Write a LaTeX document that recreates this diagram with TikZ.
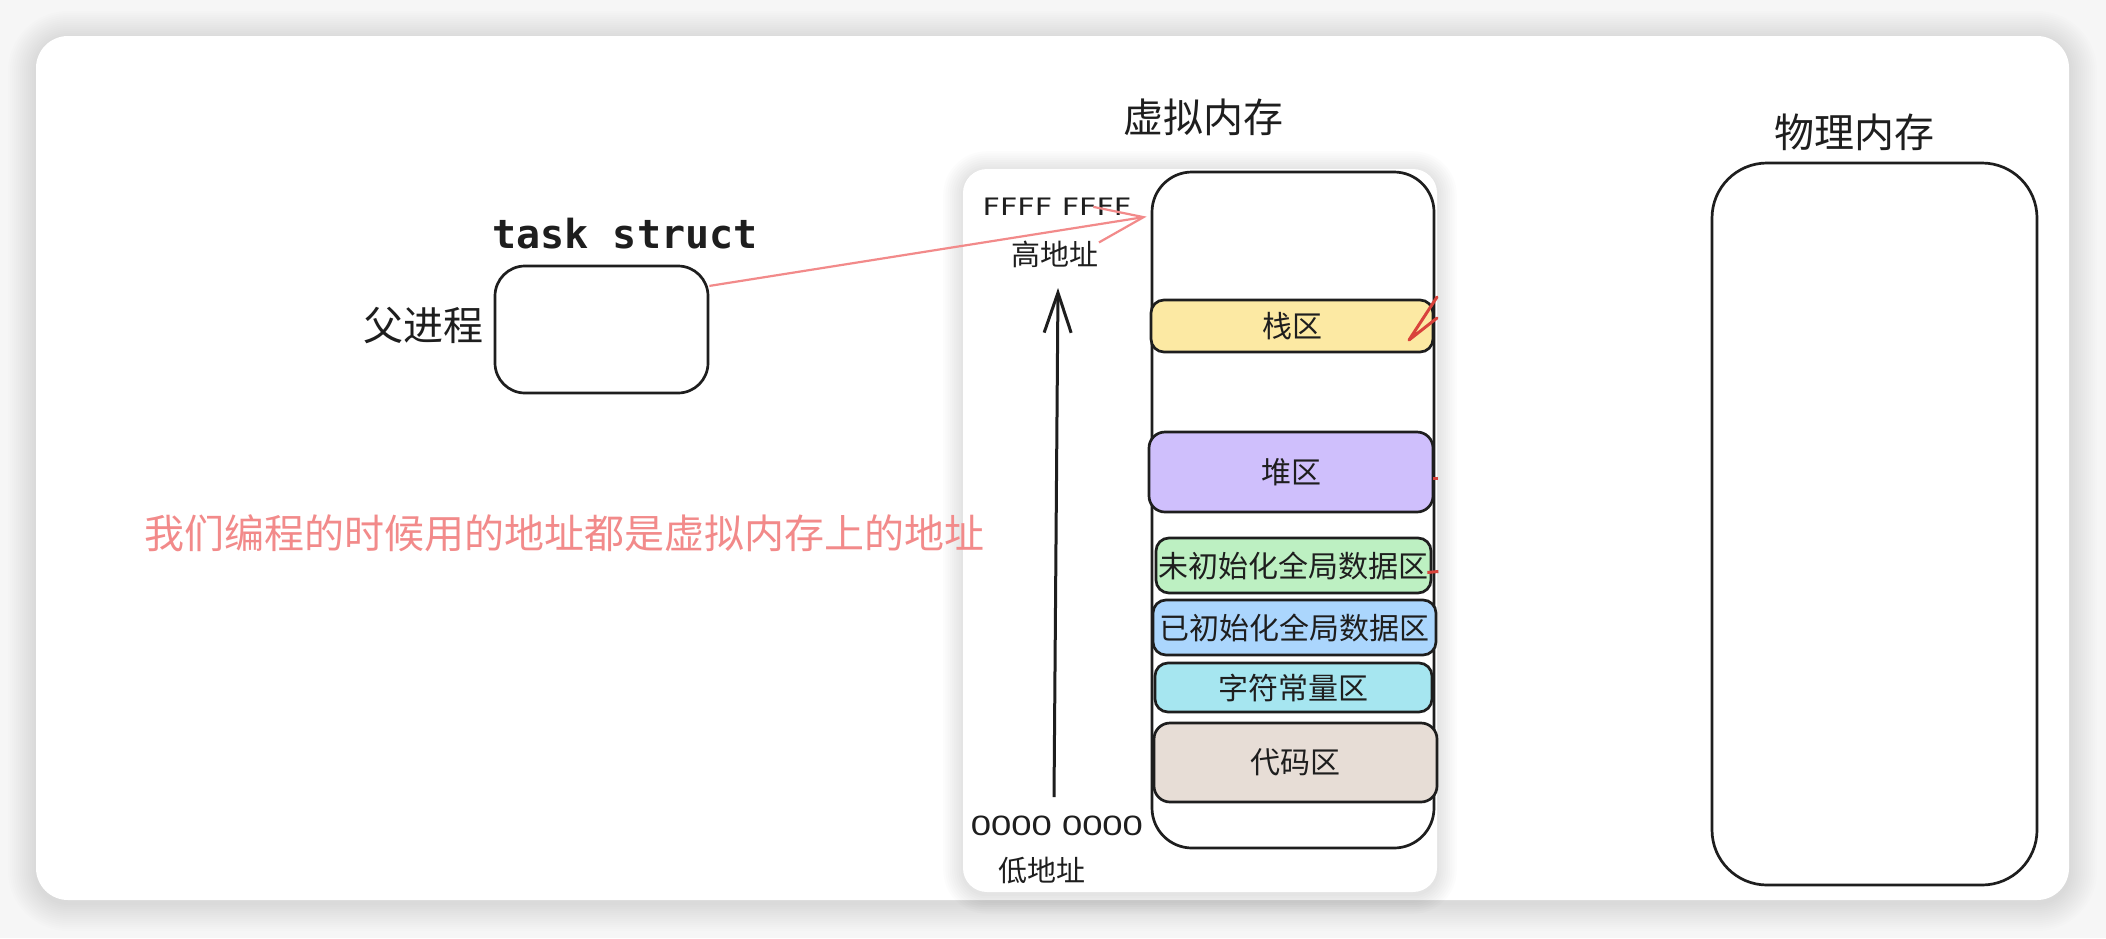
\documentclass[tikz,border=0pt]{standalone}
\usepackage{fontspec}
\usepackage{graphicx}
\setmainfont{Noto Sans CJK SC}
\newfontfamily\monof{DejaVu Sans Mono}
\newfontfamily\handf{DejaVu Sans}
\newfontfamily\handi{Liberation Sans}
\usetikzlibrary{arrows.meta,calc}
\definecolor{ink}{HTML}{1E1E1E}
\definecolor{bgc}{HTML}{F6F6F6}
\definecolor{pinkc}{HTML}{F28A8A}
\definecolor{redc}{HTML}{D9433C}
\definecolor{cyel}{HTML}{FCE9A3}
\definecolor{cvio}{HTML}{CFBFFC}
\definecolor{cgrn}{HTML}{BDF0C2}
\definecolor{cblu}{HTML}{ABD6FD}
\definecolor{ccya}{HTML}{A6E6F0}
\definecolor{cbrz}{HTML}{E7DDD6}
\begin{document}
\begin{tikzpicture}[x=1pt,y=-1pt,
  box/.style={draw=ink, line width=2.7pt, inner sep=0pt, text=ink},
  secbox/.style={box, rounded corners=13pt, font=\fontsize{30}{30}\selectfont},
  lbl/.style={inner sep=0pt, text=ink},
  bigtxt/.style={lbl, font=\fontsize{40}{40}\selectfont},
  midtxt/.style={lbl, font=\fontsize{29}{29}\selectfont}]
\useasboundingbox (0,0) rectangle (2106,938);
\fill[bgc] (0,0) rectangle (2106,938);
% card shadow
\foreach \i in {1,...,14}{
  \pgfmathsetmacro\d{2*\i}
  \pgfmathsetmacro\r{32+2*\i}
  \fill[black, opacity=0.009, rounded corners=\r pt] (36-\d,39-\d) rectangle (2069+\d,903+\d);
}
\fill[white, rounded corners=32pt] (36,36) rectangle (2069,900);
% panel shadow
\foreach \i in {1,...,9}{
  \pgfmathsetmacro\d{2.2*\i}
  \pgfmathsetmacro\r{24+2.2*\i}
  \fill[black, opacity=0.011, rounded corners=\r pt] (963-\d,171-\d) rectangle (1437+\d,894+\d);
}
\fill[white, rounded corners=24pt] (963,169) rectangle (1437,892);

% parent process
\node[box, rounded corners=30pt, minimum width=213pt, minimum height=127pt] (parent) at (601.5,329.5) {};
\node[bigtxt] (parentlbl) at (423.5,325) {父进程};
\node[lbl, font=\monof\bfseries\fontsize{40}{40}\selectfont] (task) at (625,234) {task struct};

% pink sentence
\node[lbl, text=pinkc, font=\fontsize{40}{40}\selectfont] (note) at (564.5,533) {我们编程的时候用的地址都是虚拟内存上的地址};

% titles
\node[bigtxt] (vtitle) at (1203,117) {虚拟内存};
\node[bigtxt] (ptitle) at (1854,132) {物理内存};

% virtual memory
\node[box, rounded corners=40pt, minimum width=282pt, minimum height=676pt] (vm) at (1293,510) {};
\node[secbox, fill=cyel, minimum width=282pt, minimum height=52pt] (stack) at (1292,326) {栈区};
\node[secbox, fill=cvio, rounded corners=16pt, minimum width=284pt, minimum height=80pt] (heap) at (1291,472) {堆区};
\node[secbox, fill=cgrn, minimum width=275pt, minimum height=55pt] (bss) at (1293.5,565.5) {未初始化全局数据区};
\node[secbox, fill=cblu, minimum width=283pt, minimum height=55pt] (data) at (1294.5,627.5) {已初始化全局数据区};
\node[secbox, fill=ccya, minimum width=277pt, minimum height=49pt] (rodata) at (1293.5,687.5) {字符常量区};
\node[secbox, fill=cbrz, rounded corners=16pt, minimum width=283pt, minimum height=79pt] (code) at (1295.5,762.5) {代码区};

% physical memory
\node[box, rounded corners=55pt, minimum width=325pt, minimum height=722pt] (phys) at (1874.5,524) {};

% address labels
\node[lbl, font=\handf\fontsize{24}{24}\selectfont] (hiaddr) at (1057,207) {\scalebox{1.26}[1]{FFFF FFFF}};
\node[midtxt] (hilbl) at (1055,254) {高地址};
\node[lbl, font=\handi\fontsize{28}{28}\selectfont] (loaddr) at (1057,826) {\scalebox{1.3}[1]{0000 0000}};
\node[midtxt] (lolbl) at (1041.5,871) {低地址};

% up arrow
\coordinate (upstart) at (1054,797);
\coordinate (upend) at (1058,288);
\draw[ink, line width=3pt, -{Straight Barb[length=40pt,width=27pt]}] (upstart) -- (upend);

% pink connector
\coordinate (vmhook) at ($(vm.north west)+(-4,46)$);
\draw[pinkc, line width=2.2pt, -{Straight Barb[length=48pt,width=36pt]}] (parent.22) -- (vmhook);

% red marks
\coordinate (stacktip) at (1409,340);
\coordinate (stackw1) at (1437,297);
\coordinate (stackw2) at (1437,318);
\draw[redc, line width=3pt, line cap=round, line join=round] (stackw1) -- (stacktip) -- (stackw2);
\draw[redc, line width=3pt] ($(heap.east)+(-1,6)$) -- ++(5,0);
\draw[redc, line width=3pt] ($(bss.east)+(-5,7)$) -- ++(11,-1);
\end{tikzpicture}
\end{document}
